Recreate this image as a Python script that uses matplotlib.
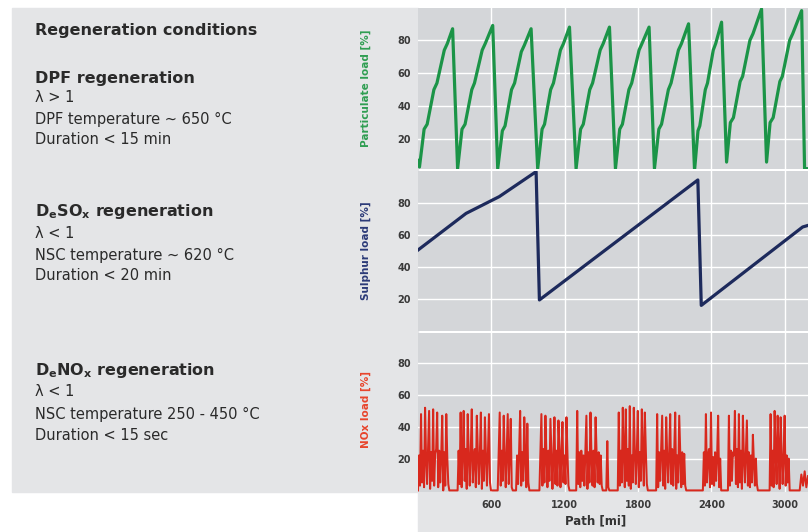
import numpy as np
import matplotlib.pyplot as plt
from matplotlib.patches import Rectangle

plt.rcParams['font.family'] = ['DejaVu Sans']

W, H = 808, 532

# particulate load [%] vs path [mi]
pm_x = [0, 12, 50, 75, 130, 155, 215, 240, 283, 324,
        360, 385, 440, 462, 525, 550, 611, 652,
        690, 712, 765, 790, 845, 870, 925, 979,
        1015, 1035, 1085, 1108, 1165, 1190, 1239, 1293,
        1330, 1352, 1405, 1428, 1490, 1515, 1566, 1615,
        1650, 1672, 1725, 1748, 1808, 1832, 1890, 1934,
        1970, 1992, 2048, 2070, 2130, 2155, 2213, 2262,
        2290, 2305, 2350, 2368, 2415, 2435, 2483, 2524,
        2555, 2580, 2635, 2655, 2715, 2740, 2810, 2851,
        2880, 2905, 2960, 2980, 3040, 3065, 3138, 3162, 3190]
pm_y = [7, 3, 26, 29, 50, 54, 74, 78, 87, 2,
        26, 29, 50, 54, 74, 78, 89, 2,
        25, 28, 50, 54, 73, 77, 87, 2,
        26, 29, 50, 54, 74, 78, 88, 2,
        26, 29, 50, 54, 74, 78, 88, 2,
        26, 29, 50, 54, 74, 78, 88, 2,
        26, 29, 50, 54, 74, 78, 90, 1,
        25, 28, 50, 54, 74, 78, 91, 6,
        30, 33, 55, 58, 80, 84, 99, 6,
        30, 33, 55, 58, 80, 84, 98, 2, 2]

# sulphur load [%]
s_x = [0, 393, 665, 966, 993, 2289, 2317, 3146, 3190]
s_y = [50.6, 73.5, 84, 99.6, 19.4, 94.4, 16, 65, 66]

# NOx load [%]: bursts of storage / purge cycles
nox_starts = [0, 324, 652, 802, 993, 1294, 1540, 1634, 1948, 2330, 2535, 2876, 3122]
nox_ends = [256, 597, 775, 911, 1239, 1511, 1565, 1880, 2194, 2480, 2780, 3040, 3190]
nox_b0 = [0, 22, 3, 48, 5, 25, 2, 52, 20, 4, 26, 50, 1, 24, 6, 51, 3, 23, 26, 49, 2, 25,
          5, 22, 47, 0, 24, 3, 48, 21, 4, 0]
nox_b1 = [0, 25, 4, 49, 2, 24, 50, 6, 26, 1, 48, 22, 3, 25, 51, 5, 20, 26, 2, 47, 24, 4,
          23, 49, 1, 25, 6, 46, 22, 3, 24, 48, 5, 0]
nox_b2 = [0, 24, 49, 3, 25, 6, 47, 22, 2, 26, 48, 4, 23, 45, 2, 0]
nox_b3 = [0, 22, 4, 25, 50, 3, 24, 6, 46, 21, 2, 42, 5, 0]
nox_b4 = [0, 24, 48, 3, 26, 5, 47, 22, 2, 25, 6, 45, 24, 1, 22, 46, 4, 25, 3, 44, 26, 2,
          24, 43, 5, 22, 4, 46, 23, 3, 0]
nox_b5 = [0, 50, 4, 24, 2, 25, 6, 22, 3, 26, 47, 1, 24, 5, 49, 21, 3, 25, 2, 46, 23, 5,
          24, 4, 22, 3, 0]
nox_b6 = [0, 31, 2, 0]
nox_b7 = [0, 49, 3, 25, 5, 52, 24, 2, 51, 6, 26, 3, 53, 1, 22, 5, 52, 25, 4, 24, 50, 2,
          24, 6, 51, 23, 3, 49, 25, 4, 0]
nox_b8 = [0, 48, 2, 24, 6, 26, 47, 3, 25, 1, 46, 22, 5, 24, 48, 4, 26, 3, 24, 49, 1, 22,
          5, 47, 25, 2, 24, 4, 23, 3, 0]
nox_b9 = [0, 24, 3, 48, 5, 22, 26, 2, 49, 4, 21, 3, 24, 6, 22, 47, 2, 20, 0]
nox_b10 = [0, 47, 3, 25, 6, 24, 22, 50, 4, 26, 2, 48, 5, 25, 1, 47, 21, 5, 24, 44, 3, 24,
           2, 22, 5, 35, 18, 3, 20, 4, 0]
nox_b11 = [0, 48, 3, 25, 2, 50, 24, 4, 47, 26, 1, 46, 22, 4, 23, 47, 3, 22, 5, 20, 0]
nox_b12 = [0, 10, 3, 12, 2, 9]
nox_bursts = [nox_b0, nox_b1, nox_b2, nox_b3, nox_b4, nox_b5, nox_b6,
              nox_b7, nox_b8, nox_b9, nox_b10, nox_b11, nox_b12]

x_ticks = [600, 1200, 1800, 2400, 3000]
y_ticks = [20, 40, 60, 80]

nox_x = []
nox_y = []
for a, b, vals in zip(nox_starts, nox_ends, nox_bursts):
    nox_x.extend(np.linspace(a, b, len(vals)))
    nox_y.extend(vals)


def rect(x0, y0, x1, y1):
    return [x0 / W, 1 - y1 / H, (x1 - x0) / W, (y1 - y0) / H]


fig = plt.figure(figsize=(W / 100, H / 100), dpi=100)
fig.patch.set_facecolor('white')
fig.add_artist(Rectangle((12 / W, 1 - 492 / H), (418 - 12) / W, (492 - 8) / H,
                         transform=fig.transFigure, color='#e4e5e7', zorder=-10))
fig.add_artist(Rectangle((418 / W, 0), (808 - 418) / W, (532 - 492) / H,
                         transform=fig.transFigure, color='#e4e5e7', zorder=-10))

ax_pm = fig.add_axes(rect(418, 8, 808, 169))
ax_s = fig.add_axes(rect(418, 171, 808, 331))
ax_n = fig.add_axes(rect(418, 333, 808, 492))

ax_pm.plot(pm_x, pm_y, color='#1b9447', lw=2.3, solid_joinstyle='round')
ax_s.plot(s_x, s_y, color='#1d2a5c', lw=2.3, solid_joinstyle='round')
ax_n.plot(nox_x, nox_y, color='#d8281d', lw=1.45)

ax_pm.set_ylim(1.8, 99.6)
ax_s.set_ylim(0, 100)
ax_n.set_ylim(-1, 99)

for ax in (ax_pm, ax_s, ax_n):
    ax.set_facecolor('#d4d6d9')
    ax.set_xlim(0, 3190)
    ax.set_xticks(x_ticks)
    ax.set_yticks(y_ticks)
    ax.grid(True, color='white', lw=1.0)
    ax.set_axisbelow(True)
    for sp in ax.spines.values():
        sp.set_visible(False)
    ax.tick_params(length=0, labelsize=7, labelcolor='#3a3a3a', pad=5)
    for lab in ax.get_yticklabels():
        lab.set_fontweight('bold')
    ax.tick_params(axis='x', labelbottom=False)

ax_n.tick_params(axis='x', labelbottom=True, pad=6)
for lab in ax_n.get_xticklabels():
    lab.set_fontweight('bold')
ax_n.set_xlabel('Path [mi]', fontsize=8.5, fontweight='bold', color='#333333')
ax_n.xaxis.set_label_coords((596 - 418) / 390, -0.14)


def ftext(x, y, s, **kw):
    fig.text(x / W, 1 - y / H, s, va='center', ha='left', color='#2a2a2a', **kw)


ftext(35, 30, 'Regeneration conditions', fontsize=11.5, fontweight='bold')

ftext(35, 78, 'DPF regeneration', fontsize=11.5, fontweight='bold')
ftext(35, 98, 'λ > 1', fontsize=10.5)
ftext(35, 119, 'DPF temperature ~ 650 °C', fontsize=10.5)
ftext(35, 139, 'Duration < 15 min', fontsize=10.5)

ftext(35, 211, r'D$_\mathbf{e}$SO$_\mathbf{x}$ regeneration', fontsize=11.5, fontweight='bold')
ftext(35, 233, 'λ < 1', fontsize=10.5)
ftext(35, 255, 'NSC temperature ~ 620 °C', fontsize=10.5)
ftext(35, 276, 'Duration < 20 min', fontsize=10.5)

ftext(35, 371, r'D$_\mathbf{e}$NO$_\mathbf{x}$ regeneration', fontsize=11.5, fontweight='bold')
ftext(35, 392, 'λ < 1', fontsize=10.5)
ftext(35, 414, 'NSC temperature 250 - 450 °C', fontsize=10.5)
ftext(35, 435, 'Duration < 15 sec', fontsize=10.5)

fig.text(366 / W, 1 - 88 / H, 'Particulate load [%]', rotation=90, ha='center', va='center',
         fontsize=7.5, fontweight='bold', color='#2f9e52')
fig.text(366 / W, 1 - 251 / H, 'Sulphur load [%]', rotation=90, ha='center', va='center',
         fontsize=7.5, fontweight='bold', color='#2b3a78')
fig.text(366 / W, 1 - 410 / H, 'NOx load [%]', rotation=90, ha='center', va='center',
         fontsize=7.5, fontweight='bold', color='#e8452c')

fig.savefig('out.png', dpi=100)
